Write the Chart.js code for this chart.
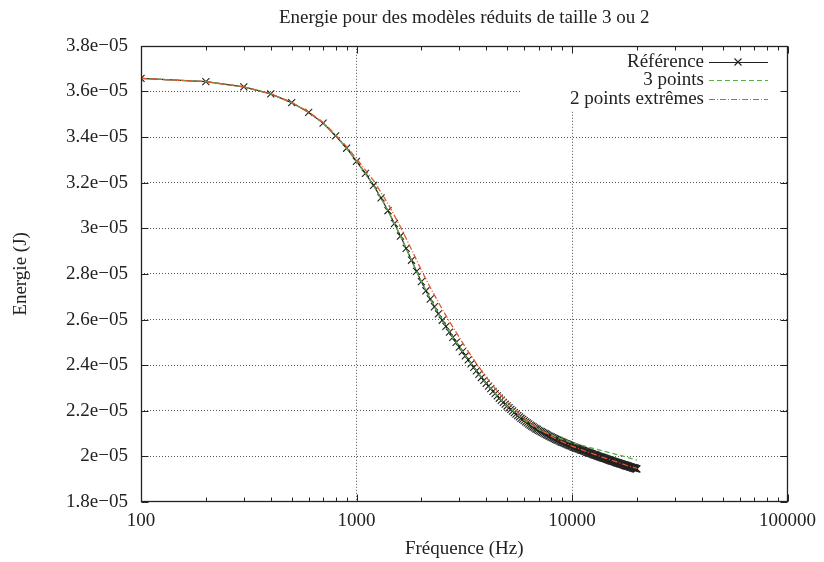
<!DOCTYPE html>
<html>
<head>
<meta charset="utf-8">
<script src="https://cdn.jsdelivr.net/npm/chart.js@4.4.1/dist/chart.umd.min.js"></script>
<style>
  body { margin: 0; background: #fff; }
</style>
</head>
<body>
<canvas id="chart" width="824" height="562"></canvas>
<script>
// energies are in units of 1e-05 J
const freqRef = [
  100, 200, 300, 400, 500, 600, 700, 800, 900, 1000,
  1100, 1200, 1300, 1400, 1500, 1600, 1700, 1800, 1900, 2000,
  2100, 2200, 2300, 2400, 2500, 2600, 2700, 2800, 2900, 3000,
  3100, 3200, 3300, 3400, 3500, 3600, 3700, 3800, 3900, 4000,
  4100, 4200, 4300, 4400, 4500, 4600, 4700, 4800, 4900, 5000,
  5100, 5200, 5300, 5400, 5500, 5600, 5700, 5800, 5900, 6000,
  6100, 6200, 6300, 6400, 6500, 6600, 6700, 6800, 6900, 7000,
  7100, 7200, 7300, 7400, 7500, 7600, 7700, 7800, 7900, 8000,
  8100, 8200, 8300, 8400, 8500, 8600, 8700, 8800, 8900, 9000,
  9100, 9200, 9300, 9400, 9500, 9600, 9700, 9800, 9900, 10000,
  10100, 10200, 10300, 10400, 10500, 10600, 10700, 10800, 10900, 11000,
  11100, 11200, 11300, 11400, 11500, 11600, 11700, 11800, 11900, 12000,
  12100, 12200, 12300, 12400, 12500, 12600, 12700, 12800, 12900, 13000,
  13100, 13200, 13300, 13400, 13500, 13600, 13700, 13800, 13900, 14000,
  14100, 14200, 14300, 14400, 14500, 14600, 14700, 14800, 14900, 15000,
  15100, 15200, 15300, 15400, 15500, 15600, 15700, 15800, 15900, 16000,
  16100, 16200, 16300, 16400, 16500, 16600, 16700, 16800, 16900, 17000,
  17100, 17200, 17300, 17400, 17500, 17600, 17700, 17800, 17900, 18000,
  18100, 18200, 18300, 18400, 18500, 18600, 18700, 18800, 18900, 19000,
  19100, 19200, 19300, 19400, 19500, 19600, 19700, 19800, 19900, 20000
];
const energyRef = [
  3.657, 3.643, 3.620, 3.589, 3.551, 3.508, 3.461, 3.405, 3.351, 3.293,
  3.241, 3.188, 3.133, 3.077, 3.021, 2.966, 2.912, 2.860, 2.811, 2.766,
  2.726, 2.690, 2.656, 2.625, 2.597, 2.570, 2.545, 2.522, 2.500, 2.479,
  2.459, 2.441, 2.423, 2.406, 2.390, 2.375, 2.360, 2.346, 2.333, 2.320,
  2.308, 2.297, 2.285, 2.275, 2.265, 2.255, 2.246, 2.237, 2.229, 2.221,
  2.213, 2.206, 2.199, 2.192, 2.185, 2.179, 2.173, 2.167, 2.162, 2.157,
  2.151, 2.147, 2.142, 2.137, 2.133, 2.129, 2.125, 2.121, 2.118, 2.114,
  2.111, 2.108, 2.105, 2.102, 2.099, 2.096, 2.093, 2.090, 2.088, 2.085,
  2.082, 2.080, 2.078, 2.075, 2.073, 2.071, 2.069, 2.066, 2.064, 2.062,
  2.060, 2.058, 2.056, 2.055, 2.053, 2.051, 2.049, 2.047, 2.046, 2.044,
  2.042, 2.041, 2.039, 2.038, 2.036, 2.035, 2.033, 2.032, 2.030, 2.029,
  2.028, 2.026, 2.025, 2.023, 2.022, 2.021, 2.019, 2.018, 2.017, 2.016,
  2.014, 2.013, 2.012, 2.011, 2.009, 2.008, 2.007, 2.006, 2.005, 2.004,
  2.002, 2.001, 2.000, 1.999, 1.998, 1.997, 1.996, 1.995, 1.994, 1.993,
  1.992, 1.991, 1.990, 1.989, 1.988, 1.987, 1.986, 1.985, 1.984, 1.983,
  1.982, 1.981, 1.980, 1.979, 1.978, 1.978, 1.977, 1.976, 1.975, 1.974,
  1.973, 1.972, 1.972, 1.971, 1.970, 1.969, 1.968, 1.967, 1.967, 1.966,
  1.965, 1.964, 1.964, 1.963, 1.962, 1.961, 1.960, 1.960, 1.959, 1.958,
  1.958, 1.957, 1.956, 1.955, 1.955, 1.954, 1.953, 1.953, 1.952, 1.951,
  1.951, 1.950, 1.949, 1.949, 1.948, 1.947, 1.947, 1.946, 1.945, 1.945
];

const freqModel = [
  100, 200, 300, 400, 500, 600, 700, 800, 900, 1000,
  1200, 1400, 1600, 1800, 2000, 2200, 2500, 2800, 3200, 3600,
  4000, 4500, 5000, 6000, 7000, 8000, 9000, 10000, 12000, 14000,
  16000, 18000, 20000
];
const energy3pts = [
  3.657, 3.643, 3.620, 3.589, 3.551, 3.508, 3.461, 3.405, 3.351, 3.293,
  3.188, 3.077, 2.966, 2.860, 2.766, 2.690, 2.597, 2.522, 2.441, 2.375,
  2.320, 2.265, 2.221, 2.158, 2.118, 2.094, 2.075, 2.060, 2.040, 2.023,
  2.009, 1.996, 1.984
];
const energy2ext = [
  3.657, 3.643, 3.620, 3.589, 3.552, 3.510, 3.464, 3.410, 3.358, 3.305,
  3.209, 3.108, 3.006, 2.907, 2.816, 2.740, 2.645, 2.567, 2.479, 2.407,
  2.347, 2.286, 2.238, 2.167, 2.120, 2.088, 2.064, 2.045, 2.017, 1.995,
  1.977, 1.960, 1.947
];

const xTicks = [100, 1000, 10000, 100000];
const yTicks = [1.8, 2.0, 2.2, 2.4, 2.6, 2.8, 3.0, 3.2, 3.4, 3.6, 3.8];
const seriesNames = ['Référence', '3 points', '2 points extrêmes'];

const ink = '#222';
const green = '#5bb043';
const red = '#e4572e';
const serif = '"Liberation Serif", "DejaVu Serif", serif';
const font = { family: serif, size: 19 };

const toPoints = (xs, ys) => xs.map((x, i) => ({ x: x, y: ys[i] }));

// gnuplot style frame, inward ticks and opaque key
const gnuFrame = {
  id: 'gnuFrame',
  afterDatasetsDraw(chart) {
    const { ctx, chartArea: a } = chart;
    ctx.save();
    ctx.fillStyle = '#fff';
    ctx.fillRect(521, a.top + 1, a.right - 522, 64);

    ctx.font = '19px ' + serif;
    ctx.fillStyle = ink;
    ctx.textAlign = 'right';
    ctx.textBaseline = 'middle';
    const styles = [
      { color: ink, dash: [] },
      { color: green, dash: [5, 3] },
      { color: red, dash: [6, 2, 1, 2] }
    ];
    seriesNames.forEach((name, i) => {
      const y = 62 + i * 18.3;
      ctx.fillText(name, 704, y);
      ctx.strokeStyle = styles[i].color;
      ctx.lineWidth = 1.2;
      ctx.setLineDash(styles[i].dash);
      ctx.beginPath();
      ctx.moveTo(709, Math.round(y) + 0.5);
      ctx.lineTo(768, Math.round(y) + 0.5);
      ctx.stroke();
      if (i === 0) {
        ctx.setLineDash([]);
        ctx.lineWidth = 1.1;
        ctx.beginPath();
        ctx.moveTo(734.5, y - 3.5); ctx.lineTo(741.5, y + 3.5);
        ctx.moveTo(734.5, y + 3.5); ctx.lineTo(741.5, y - 3.5);
        ctx.stroke();
      }
    });
    ctx.restore();
  },
  afterDraw(chart) {
    const { ctx, chartArea: a, scales } = chart;
    const L = Math.round(a.left) + 0.5, R = Math.round(a.right) - 0.5;
    const T = Math.round(a.top) + 0.5, B = Math.round(a.bottom) - 0.5;
    ctx.save();
    ctx.strokeStyle = ink;
    ctx.lineWidth = 1.3;
    ctx.setLineDash([]);
    ctx.strokeRect(L, T, R - L, B - T);
    ctx.lineWidth = 1;
    ctx.beginPath();
    xTicks.forEach(d => {
      const px = Math.round(scales.x.getPixelForValue(d)) + 0.5;
      ctx.moveTo(px, B); ctx.lineTo(px, B - 7);
      ctx.moveTo(px, T); ctx.lineTo(px, T + 7);
      if (d < 100000) {
        for (let m = 2; m <= 9; m++) {
          const q = Math.round(scales.x.getPixelForValue(m * d)) + 0.5;
          ctx.moveTo(q, B); ctx.lineTo(q, B - 4);
          ctx.moveTo(q, T); ctx.lineTo(q, T + 4);
        }
      }
    });
    yTicks.forEach(v => {
      const py = Math.round(scales.y.getPixelForValue(v)) + 0.5;
      ctx.moveTo(L, py); ctx.lineTo(L + 7, py);
      ctx.moveTo(R, py); ctx.lineTo(R - 7, py);
    });
    ctx.stroke();
    ctx.restore();
  }
};

new Chart(document.getElementById('chart'), {
  type: 'line',
  data: {
    datasets: [
      {
        label: seriesNames[0],
        data: toPoints(freqRef, energyRef),
        borderColor: ink,
        borderWidth: 1.2,
        pointStyle: 'crossRot',
        pointRadius: 5,
        pointBorderColor: ink,
        pointBorderWidth: 1.1,
        pointBackgroundColor: 'transparent',
        tension: 0,
        order: 3
      },
      {
        label: seriesNames[1],
        data: toPoints(freqModel, energy3pts),
        borderColor: green,
        borderWidth: 1.3,
        borderDash: [5, 3],
        pointRadius: 0,
        tension: 0,
        order: 2
      },
      {
        label: seriesNames[2],
        data: toPoints(freqModel, energy2ext),
        borderColor: red,
        borderWidth: 1.3,
        borderDash: [6, 2, 1, 2],
        pointRadius: 0,
        tension: 0,
        order: 1
      }
    ]
  },
  options: {
    responsive: false,
    animation: false,
    devicePixelRatio: 1,
    layout: { padding: { top: 0, right: 35, bottom: 0, left: 0 } },
    plugins: {
      legend: { display: false },
      tooltip: { enabled: false },
      title: {
        display: true,
        text: 'Energie pour des modèles réduits de taille 3 ou 2',
        font: { family: serif, size: 19, weight: 'normal' },
        color: ink,
        fullSize: false,
        padding: { top: 7, bottom: 16 }
      }
    },
    scales: {
      x: {
        type: 'logarithmic',
        min: 100,
        max: 100000,
        afterBuildTicks: s => { s.ticks = xTicks.map(v => ({ value: v })); },
        afterFit: s => { s.height = 60; },
        grid: {
          color: c => (c.tick && c.tick.value > 100 && c.tick.value < 100000) ? '#555' : 'rgba(0,0,0,0)',
          drawTicks: false,
          lineWidth: 1
        },
        border: { display: false, dash: [1, 2] },
        ticks: {
          callback: v => String(v),
          font: font,
          color: ink,
          padding: 8,
          maxRotation: 0,
          autoSkip: false
        },
        title: {
          display: true,
          text: 'Fréquence (Hz)',
          font: font,
          color: ink,
          padding: { top: 0, bottom: 2 }
        }
      },
      y: {
        min: 1.8,
        max: 3.8,
        afterBuildTicks: s => { s.ticks = yTicks.map(v => ({ value: v })); },
        afterFit: s => { s.width = 141; },
        grid: {
          color: c => (c.tick && c.tick.value > 1.81 && c.tick.value < 3.79) ? '#555' : 'rgba(0,0,0,0)',
          drawTicks: false,
          lineWidth: 1
        },
        border: { display: false, dash: [1, 2] },
        ticks: {
          callback: v => (Math.round(v * 10) / 10) + 'e\u221205',
          font: font,
          color: ink,
          padding: 13
        },
        title: {
          display: true,
          text: 'Energie (J)',
          font: font,
          color: ink,
          padding: { top: 10, bottom: 0 }
        }
      }
    }
  },
  plugins: [gnuFrame]
});
</script>
</body>
</html>
